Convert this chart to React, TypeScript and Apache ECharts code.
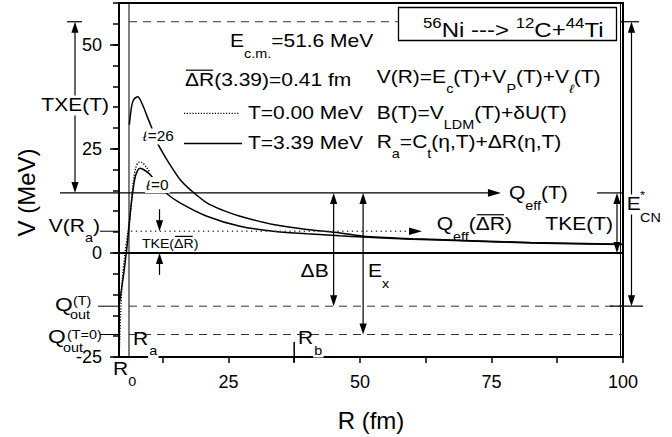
import React, { useEffect, useRef } from 'react';
import * as echarts from 'echarts';

const FONT = '"Liberation Sans", Arial, Helvetica, sans-serif';
const INK = '#000';
const DASH_INK = '#333';
const WIDTH = 672;
const HEIGHT = 437;

// axes
const R_MIN = 4.2; // R0
const R_MAX = 100;
const V_MIN = -25;
const V_MAX = 60;
const xLabelValues = [25, 50, 75, 100];
const xTickValues = [12.5, 25, 37.5, 50, 62.5, 75, 87.5, 100];
const yLabelValues = [-25, 0, 25, 50];
const Y_MINOR_STEP = 5;

// characteristic radii (fm)
const R_A = 6.1;
const R_B = 37.5;
const R_DB = 45; // ΔB arrow
const R_EX = 50.6; // E_x arrow
const R_TKE_BAR = 11.9; // TKE(ΔR̄) arrows
const R_QEFF_T_END = 76.8;
const R_QEFF_BAR_END = 61.8;

// energy levels (MeV)
const E_TOP = 55.5;
const Q_EFF_T = 14.4;
const V_RA = 5.2;
const Q_OUT_T = -12.8;
const Q_OUT_T0 = -19.6;

// V(R), T = 3.39 MeV, ℓ = 26
const rL26 = [6.16, 6.6, 7.0, 7.76, 8.8, 9.6, 10.3, 11.5, 13, 14.5, 16, 17.7, 20.9, 24, 27.2, 33.5, 39.9, 46.2, 50.6, 60, 69.6, 82.4, 100];
const vL26 = [30.8, 35.2, 36.8, 37.5, 35.2, 32.6, 30.4, 26.4, 23.0, 20.0, 17.3, 15.2, 12.0, 10.2, 8.8, 6.8, 5.6, 4.8, 4.0, 3.4, 3.0, 2.5, 2.1];
// V(R), T = 3.39 MeV, ℓ = 0
const rL0 = [4.3, 4.7, 5.1, 5.66, 6.16, 6.6, 7.2, 7.7, 8.2, 9.0, 10.1, 11.5, 13.3, 15.8, 20.9, 27.2, 33.5, 39.9, 46.2, 50.6, 60, 69.6, 82.4, 100];
const vL0 = [-12, -8.5, -5, 0.8, 7, 12.5, 17.8, 19.7, 20.3, 19.9, 18.8, 16.6, 14.2, 12.0, 8.8, 6.4, 5.2, 4.6, 4.1, 3.8, 3.3, 2.9, 2.4, 2.0];
// V(R), T = 0.00 MeV, ℓ = 0
const rT0 = [4.22, 4.5, 4.8, 5.35, 5.9, 6.3, 6.9, 7.4, 7.9, 8.4, 9.5, 10.1];
const vT0 = [-25, -15, -7, 0, 5, 9, 16.8, 20.5, 21.7, 21.8, 20.4, 19.2];

const zip = (r: number[], v: number[]) => r.map((x, i) => [x, v[i]]);

// text settings for annotations
const TXT = 17.5;
const SX = 1.2;
const SUB = 12;
const SUB_DY = 12;

type Part = { t: string; size?: number; dy?: number; dx?: number; bar?: boolean; bg?: boolean; italic?: boolean };

const measureCtx = document.createElement('canvas').getContext('2d') as CanvasRenderingContext2D;
const measure = (t: string, size: number, italic?: boolean) => {
  measureCtx.font = `${italic ? 'italic ' : ''}${size}px ${FONT}`;
  return measureCtx.measureText(t).width;
};

function row(x: number, y: number, parts: Part[], opts: { align?: 'left' | 'right' | 'center'; size?: number; sx?: number } = {}) {
  const base = opts.size ?? TXT;
  const sx = opts.sx ?? SX;
  const ws = parts.map((p) => measure(p.t, p.size ?? base, p.italic) * sx);
  const total = ws.reduce((a, b, i) => a + b + (parts[i].dx ?? 0), 0);
  const align = opts.align ?? 'left';
  let cx = align === 'left' ? x : align === 'right' ? x - total : x - total / 2;
  const out: any[] = [];
  parts.forEach((p, i) => {
    const size = p.size ?? base;
    cx += p.dx ?? 0;
    const yy = y + (p.dy ?? 0);
    out.push({
      type: 'text',
      z: 20,
      x: cx,
      y: yy,
      scaleX: sx,
      style: {
        text: p.t,
        fontSize: size,
        fontFamily: FONT,
        fontStyle: p.italic ? 'italic' : 'normal',
        fill: INK,
        align: 'left',
        verticalAlign: 'middle',
        backgroundColor: p.bg ? '#fff' : undefined,
        padding: p.bg ? [1, 1] : 0,
      },
    });
    if (p.bar) {
      const by = yy - size * 0.56;
      out.push({ type: 'line', z: 21, shape: { x1: cx + 1, y1: by, x2: cx + ws[i] - 1, y2: by }, style: { stroke: INK, lineWidth: 1.2 } });
    }
    cx += ws[i];
  });
  return out;
}

const seg = (x1: number, y1: number, x2: number, y2: number, w = 1.2, dash?: number[], color = INK) => ({
  type: 'line',
  z: 15,
  shape: { x1, y1, x2, y2 },
  style: dash ? { stroke: color, lineWidth: w, lineDash: dash } : { stroke: color, lineWidth: w },
});

const head = (x: number, y: number, dir: 'up' | 'down' | 'right', len = 11, hw = 3.6) => {
  let pts: number[][];
  if (dir === 'up') pts = [[x, y], [x - hw, y + len], [x + hw, y + len]];
  else if (dir === 'down') pts = [[x, y], [x - hw, y - len], [x + hw, y - len]];
  else pts = [[x, y], [x - len, y - hw], [x - len, y + hw]];
  return { type: 'polygon', z: 16, shape: { points: pts }, style: { fill: INK } };
};

const vArrow = (x: number, yTop: number, yBot: number) => [seg(x, yTop + 8, x, yBot - 8, 1.2), head(x, yTop, 'up'), head(x, yBot, 'down')];

function buildOption() {
  const axisText = { fontFamily: FONT, fontSize: 18, color: INK };
  return {
    animation: false,
    backgroundColor: '#fff',
    grid: { left: 119, right: 49, top: 3, bottom: 79, show: true, borderColor: INK, borderWidth: 2, backgroundColor: 'transparent' },
    xAxis: {
      type: 'value',
      min: R_MIN,
      max: R_MAX,
      axisLine: { show: true, onZero: false, lineStyle: { color: INK, width: 2 } },
      axisTick: { show: true, customValues: xTickValues, length: 6, lineStyle: { color: INK, width: 1.5 } },
      axisLabel: { customValues: xLabelValues, margin: 16, ...axisText },
      splitLine: { show: false },
      name: 'R (fm)',
      nameLocation: 'middle',
      nameGap: 51,
      nameTextStyle: { fontFamily: FONT, fontSize: 24, color: INK },
    },
    yAxis: [
      {
        type: 'value',
        min: V_MIN,
        max: V_MAX,
        axisLine: { show: true, onZero: false, lineStyle: { color: INK, width: 2 } },
        axisTick: { show: true, customValues: yLabelValues, length: 9, lineStyle: { color: INK, width: 1.5 } },
        axisLabel: { customValues: yLabelValues, margin: 17, ...axisText },
        splitLine: { show: false },
      },
      {
        type: 'value',
        min: V_MIN,
        max: V_MAX,
        interval: Y_MINOR_STEP,
        position: 'left',
        axisLine: { show: false, onZero: false },
        axisTick: { show: true, length: 6, lineStyle: { color: INK, width: 1.5 } },
        axisLabel: { show: false },
        splitLine: { show: false },
      },
    ],
    series: [
      {
        name: 'T=3.39 MeV, ℓ=26',
        type: 'line',
        data: zip(rL26, vL26),
        showSymbol: false,
        smooth: 0.3,
        silent: true,
        lineStyle: { color: INK, width: 1.5 },
      },
      {
        name: 'T=3.39 MeV, ℓ=0',
        type: 'line',
        data: zip(rL0, vL0),
        showSymbol: false,
        smooth: 0.3,
        silent: true,
        lineStyle: { color: INK, width: 1.5 },
      },
      {
        name: 'T=0.00 MeV',
        type: 'line',
        data: zip(rT0, vT0),
        showSymbol: false,
        smooth: 0.3,
        silent: true,
        lineStyle: { color: INK, width: 1.4, type: [1.2, 1.6] },
      },
    ],
  };
}

function buildAnnotations(xp: (r: number) => number, yp: (v: number) => number) {
  const x0 = xp(R_MIN);
  const x1 = xp(R_MAX);
  const yT = yp(V_MAX);
  const yB = yp(V_MIN);
  const yE = yp(E_TOP);
  const yQ = yp(Q_EFF_T);
  const yV = yp(V_RA);
  const yZ = yp(0);
  const yO = yp(Q_OUT_T);
  const yO0 = yp(Q_OUT_T0);
  const xA = xp(R_A);
  const xB = xp(R_B);
  const DASH = [8, 6];
  const els: any[] = [];

  // vertical guides
  els.push(seg(xA, yT, xA, yB, 1));
  els.push(seg(x1 - 2.5, yT, x1 - 2.5, yB, 1));
  // zero level
  els.push(seg(x0, yZ, x1, yZ, 2));
  // dashed levels
  els.push(seg(xA, yE, 398, yE, 1, DASH, DASH_INK));
  els.push(seg(xA, yO, x1, yO, 1, DASH, DASH_INK));
  els.push(seg(xA, yO0, x1, yO0, 1, DASH, DASH_INK));
  // leaders to left-hand labels
  els.push(seg(x0 - 19, yV, x0, yV, 1));
  els.push(seg(x0 - 21, yO, x0, yO, 1));
  els.push(seg(x0 - 19, yO0, x0, yO0, 1));

  // Q_eff(T) level
  const xq = xp(R_QEFF_T_END);
  els.push(seg(x0 - 59, yQ, xq - 8, yQ, 1.2), head(xq, yQ, 'right', 13, 3.8));
  els.push(seg(x1 - 26, yQ, x1, yQ, 1.2));
  // V(R_a) level
  const xv = xp(R_QEFF_BAR_END);
  els.push(seg(xA + 2, yV, xv - 8, yV, 1.3, [1.3, 3.5], '#444'), head(xv, yV, 'right', 13, 3.8));

  // energy arrows
  els.push(...vArrow(x0 - 44, yE, yQ));
  els.push(seg(x0 - 52, yE, x0 - 37, yE, 1.2));
  els.push(...vArrow(x1 - 6, yQ, yZ));
  els.push(...vArrow(x1 + 8.5, yE, yO));
  els.push(seg(x1 - 2, yE, x1 + 16, yE, 1.2));
  els.push(seg(x1 - 13, yO, x1 + 20, yO, 1.2));
  els.push(...vArrow(xp(R_DB), yQ, yO));
  els.push(...vArrow(xp(R_EX), yQ, yO0));
  const xt = xp(R_TKE_BAR);
  els.push(seg(xt, yV - 22, xt, yV - 8, 1.2), head(xt, yV, 'down'));
  els.push(seg(xt, yZ + 22, xt, yZ + 8, 1.2), head(xt, yZ, 'up'));
  // R_b marker
  els.push(seg(xB, yB - 15, xB, yB + 5, 1.5));

  // reaction box
  els.push({ type: 'rect', z: 12, shape: { x: 398.5, y: 7.5, width: 218, height: 33 }, style: { fill: '#fff', stroke: INK, lineWidth: 1.3 } });
  els.push(
    ...row(423, 30.5, [
      { t: '56', size: 14, dy: -7 },
      { t: 'Ni ---> ' },
      { t: '12', size: 14, dy: -7 },
      { t: 'C+' },
      { t: '44', size: 14, dy: -7 },
      { t: 'Ti' },
    ], { size: 20, sx: 1.2 })
  );

  // legend samples
  els.push(seg(184, 113.3, 239, 113.3, 1.3, [1.2, 1.6]));
  els.push(seg(184, 143.5, 242, 143.5, 1.4));

  // legend and formula texts
  els.push(...row(230, 41.5, [{ t: 'E' }, { t: 'c.m.', size: SUB, dy: SUB_DY }, { t: '=51.6 MeV' }]));
  els.push(...row(185, 80, [{ t: 'ΔR', bar: true }, { t: '(3.39)=0.41 fm' }]));
  els.push(...row(248, 113, [{ t: 'T=0.00 MeV' }]));
  els.push(...row(248, 143, [{ t: 'T=3.39 MeV' }]));
  els.push(
    ...row(376.7, 77, [
      { t: 'V(R)=E' },
      { t: 'c', size: SUB, dy: SUB_DY },
      { t: '(T)+V' },
      { t: 'P', size: SUB, dy: SUB_DY },
      { t: '(T)+V' },
      { t: 'ℓ', size: SUB, dy: SUB_DY, italic: true },
      { t: '(T)' },
    ])
  );
  els.push(...row(376.7, 113, [{ t: 'B(T)=V' }, { t: 'LDM', size: SUB, dy: SUB_DY }, { t: '(T)+δU(T)' }]));
  els.push(
    ...row(376.7, 142, [
      { t: 'R' },
      { t: 'a', size: SUB, dy: SUB_DY },
      { t: '=C' },
      { t: 't', size: SUB, dy: SUB_DY },
      { t: '(η,T)+ΔR(η,T)' },
    ])
  );

  // left-hand labels
  els.push(...row(x0 - 45, 105.5, [{ t: 'TXE(T)', bg: true }], { align: 'center' }));
  els.push(...row(x0 - 19, yV - 5, [{ t: 'V(R' }, { t: 'a', size: SUB, dy: SUB_DY }, { t: ')' }], { align: 'right' }));
  els.push(...row(x0 - 64, yO - 1.7, [{ t: 'Q' }], { size: 19 }));
  els.push(...row(x0 - 46, yO - 5, [{ t: '(T)' }], { size: SUB }));
  els.push(...row(x0 - 49, yO + 8.5, [{ t: 'out' }], { size: SUB }));
  els.push(...row(x0 - 71, yO0 + 1.5, [{ t: 'Q' }], { size: 19 }));
  els.push(...row(x0 - 52, yO0, [{ t: '(T=0)' }], { size: SUB }));
  els.push(...row(x0 - 56, yO0 + 13, [{ t: 'out' }], { size: SUB }));

  // labels inside the plot
  els.push(...row(xt - 17.6, yZ - 9.5, [{ t: 'TKE(' }, { t: 'ΔR', bar: true }, { t: ')' }], { size: 12.5, sx: 1.13 }));
  els.push(...row(141.7, 136.5, [{ t: 'ℓ', italic: true, bg: true }, { t: '=26', bg: true }], { size: 14, sx: 1.1 }));
  els.push(...row(145, 185, [{ t: 'ℓ', italic: true, bg: true }, { t: '=0', bg: true }], { size: 14, sx: 1.1 }));
  els.push(...row(xq + 8, yQ, [{ t: 'Q' }, { t: 'eff', size: SUB, dy: 13 }, { t: '(T)' }]));
  els.push(...row(436.7, yV - 6.7, [{ t: 'Q' }, { t: 'eff', size: SUB, dy: 12 }, { t: '(' }, { t: 'ΔR', bar: true }, { t: ')' }]));
  els.push(...row(x1 - 10, yZ - 29, [{ t: 'TKE(T)' }], { align: 'right' }));
  els.push(...row(xp(R_DB) - 5, yZ + 18, [{ t: 'ΔB' }], { align: 'right' }));
  els.push(...row(xp(R_EX) + 5, yZ + 18.5, [{ t: 'E' }, { t: 'x', size: SUB, dy: 13 }]));
  els.push(...row(x1 + 9.5, 204.5, [{ t: 'E', bg: true }], { align: 'center' }));
  els.push(...row(x1 + 17, 195, [{ t: '*' }], { size: 11 }));
  els.push(...row(x1 + 17, 218, [{ t: 'CN' }], { size: SUB }));
  els.push(...row(133, yB - 18, [{ t: 'R' }, { t: 'a', size: SUB, dy: SUB_DY, bg: true }]));
  els.push(...row(298, yB - 18.5, [{ t: 'R' }, { t: 'b', size: SUB, dy: SUB_DY, bg: true }]));
  els.push(...row(x0 - 6, yB + 12, [{ t: 'R' }, { t: '0', size: SUB, dy: 13 }]));

  // vertical axis title
  els.push({
    type: 'text',
    z: 20,
    x: 26,
    y: 192.5,
    rotation: Math.PI / 2,
    style: { text: 'V (MeV)', fontSize: 24, fontFamily: FONT, fill: INK, align: 'center', verticalAlign: 'middle' },
  });

  return els;
}

export default function App() {
  const ref = useRef<HTMLDivElement>(null);
  useEffect(() => {
    const chart = echarts.init(ref.current as HTMLDivElement, null, { renderer: 'svg' });
    chart.setOption(buildOption() as any);
    const P = (r: number, v: number) => chart.convertToPixel({ gridIndex: 0 }, [r, v]) as number[];
    const xp = (r: number) => P(r, 0)[0];
    const yp = (v: number) => P(R_MIN, v)[1];
    chart.setOption({ graphic: { elements: buildAnnotations(xp, yp) } } as any);
    return () => chart.dispose();
  }, []);
  return <div ref={ref} style={{ position: 'fixed', left: 0, top: 0, width: WIDTH, height: HEIGHT, background: '#fff' }} />;
}
